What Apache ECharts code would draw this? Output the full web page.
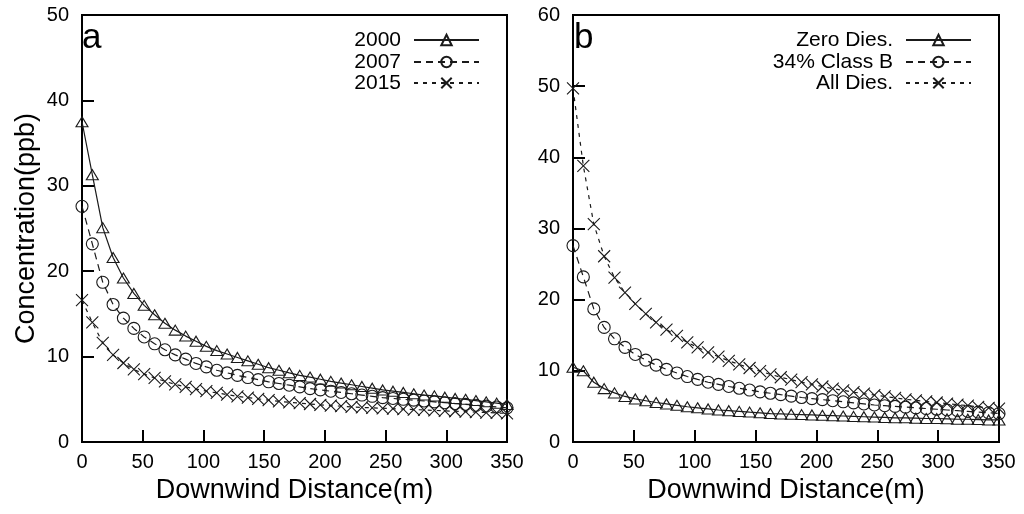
<!DOCTYPE html>
<html>
<head>
<meta charset="utf-8">
<script src="https://cdn.jsdelivr.net/npm/echarts@6/dist/echarts.min.js"></script>
<style>
html,body{margin:0;padding:0;background:#fff;}
#c{width:1024px;height:514px;}
</style>
</head>
<body>
<div id="c"></div>
<script>
// Downwind distance (m) of each sample point
const distance = [0, 8.5, 17.1, 25.6, 34.1, 42.7, 51.2, 59.8, 68.3, 76.8, 85.4, 93.9, 102.4, 111.0, 119.5, 128.0, 136.6, 145.1, 153.7, 162.2, 170.7, 179.3, 187.8, 196.3, 204.9, 213.4, 222.0, 230.5, 239.0, 247.6, 256.1, 264.6, 273.2, 281.7, 290.2, 298.8, 307.3, 315.9, 324.4, 332.9, 341.5, 350.0];

// Panel a
const y2000 = [37.5, 31.3, 25.1, 21.6, 19.2, 17.4, 16.0, 14.9, 13.9, 13.1, 12.4, 11.8, 11.2, 10.7, 10.3, 9.9, 9.5, 9.1, 8.7, 8.4, 8.1, 7.8, 7.6, 7.35, 7.1, 6.9, 6.7, 6.5, 6.3, 6.1, 5.95, 5.8, 5.65, 5.5, 5.4, 5.25, 5.1, 5.0, 4.85, 4.7, 4.55, 4.4];
const y2007 = [27.6, 23.2, 18.7, 16.1, 14.5, 13.3, 12.3, 11.5, 10.8, 10.2, 9.7, 9.2, 8.8, 8.4, 8.1, 7.8, 7.55, 7.3, 7.05, 6.85, 6.65, 6.45, 6.25, 6.1, 5.95, 5.8, 5.65, 5.5, 5.35, 5.2, 5.1, 5.0, 4.9, 4.8, 4.7, 4.6, 4.5, 4.4, 4.3, 4.2, 4.1, 4.0];
const y2015 = [16.6, 14.0, 11.6, 10.2, 9.25, 8.5, 7.95, 7.5, 7.1, 6.75, 6.45, 6.2, 5.95, 5.75, 5.55, 5.35, 5.2, 5.05, 4.9, 4.75, 4.65, 4.55, 4.45, 4.35, 4.25, 4.2, 4.1, 4.05, 4.0, 3.95, 3.9, 3.85, 3.8, 3.75, 3.7, 3.65, 3.6, 3.55, 3.5, 3.45, 3.4, 3.35];

// Panel b
const yZeroDies = [10.5, 10.0, 8.4, 7.5, 6.9, 6.4, 6.05, 5.8, 5.55, 5.35, 5.15, 4.95, 4.8, 4.65, 4.5, 4.4, 4.3, 4.2, 4.1, 4.0, 3.95, 3.9, 3.85, 3.8, 3.75, 3.7, 3.65, 3.6, 3.55, 3.5, 3.45, 3.4, 3.4, 3.35, 3.3, 3.3, 3.25, 3.2, 3.2, 3.15, 3.1, 3.1];
const yClassB = [27.6, 23.2, 18.7, 16.1, 14.5, 13.3, 12.3, 11.5, 10.8, 10.2, 9.7, 9.2, 8.8, 8.4, 8.1, 7.8, 7.55, 7.3, 7.05, 6.85, 6.65, 6.45, 6.25, 6.1, 5.95, 5.8, 5.65, 5.5, 5.35, 5.2, 5.1, 5.0, 4.9, 4.8, 4.7, 4.6, 4.5, 4.4, 4.3, 4.2, 4.1, 4.0];
const yAllDies = [49.7, 38.8, 30.6, 26.1, 23.1, 21.0, 19.4, 18.0, 16.8, 15.8, 14.9, 14.0, 13.3, 12.6, 12.0, 11.4, 10.9, 10.4, 9.95, 9.5, 9.1, 8.75, 8.4, 8.1, 7.8, 7.5, 7.25, 7.0, 6.8, 6.6, 6.4, 6.2, 6.0, 5.85, 5.7, 5.55, 5.4, 5.25, 5.1, 4.95, 4.8, 4.7];

const namesA = ['2000', '2007', '2015'];
const namesB = ['Zero Dies.', '34% Class B', 'All Dies.'];
const panelLabels = ['a', 'b'];
const xTitle = 'Downwind Distance(m)';
const yTitle = 'Concentration(ppb)';

const FONT = '"Liberation Sans", Arial, Helvetica, sans-serif';
const INK = '#1a1a1a';
const X_SYMBOL = 'path://M0,0L10,10M10,0L0,10';

function pairs(ys) { return distance.map((d, i) => [d, ys[i]]); }

const styles = [
  { symbol: 'triangle', symbolSize: [12, 10], line: 'solid' },
  { symbol: 'circle', symbolSize: 12, line: [7, 5] },
  { symbol: X_SYMBOL, symbolSize: 12, line: [4, 5] }
];

function mkSeries(name, ys, k, gi) {
  const s = styles[k];
  return {
    name: name, type: 'line', xAxisIndex: gi, yAxisIndex: gi,
    data: pairs(ys), symbol: s.symbol, symbolSize: s.symbolSize,
    showAllSymbol: true, clip: false, animation: false,
    lineStyle: { color: INK, width: 1.2, type: s.line },
    itemStyle: { color: 'rgba(255,255,255,0)', borderColor: INK, borderWidth: 1.1 },
    emphasis: { disabled: true }
  };
}

function mkLegend(name, right, top) {
  return {
    data: [name], orient: 'vertical', align: 'right', right: right, top: top,
    padding: 0, itemWidth: 65, itemHeight: 13, itemGap: 0,
    selectedMode: false,
    textStyle: { fontFamily: FONT, fontSize: 21, color: '#000', lineHeight: 22, padding: [0, 8, 0, 0] }
  };
}

function xAx(gi) {
  return {
    type: 'value', gridIndex: gi, min: 0, max: 350, interval: 50,
    name: xTitle, nameLocation: 'middle', nameGap: 30,
    nameTextStyle: { fontFamily: FONT, fontSize: 27, color: '#000' },
    axisLine: { show: true, lineStyle: { color: '#000', width: 2 } },
    axisTick: { show: true, inside: true, length: 12, lineStyle: { color: '#000', width: 2 } },
    axisLabel: { fontFamily: FONT, fontSize: 20, color: '#000', margin: 10 },
    splitLine: { show: false }
  };
}
function yAx(gi, max, withName) {
  return {
    type: 'value', gridIndex: gi, min: 0, max: max, interval: 10,
    name: withName ? yTitle : '', nameLocation: 'middle', nameGap: 42, nameRotate: 90,
    nameTextStyle: { fontFamily: FONT, fontSize: 27, color: '#000' },
    axisLine: { show: true, lineStyle: { color: '#000', width: 2 } },
    axisTick: { show: true, inside: true, length: 12, lineStyle: { color: '#000', width: 2 } },
    axisLabel: { fontFamily: FONT, fontSize: 20, color: '#000', margin: 13 },
    splitLine: { show: false }
  };
}

const chart = echarts.init(document.getElementById('c'), null, { renderer: 'canvas' });
chart.setOption({
  backgroundColor: '#fff',
  animation: false,
  grid: [
    { left: 82, top: 15, width: 425, height: 427, show: true, borderColor: '#000', borderWidth: 2, backgroundColor: 'rgba(0,0,0,0)' },
    { left: 573, top: 15, width: 426, height: 427, show: true, borderColor: '#000', borderWidth: 2, backgroundColor: 'rgba(0,0,0,0)' }
  ],
  xAxis: [xAx(0), xAx(1)],
  yAxis: [yAx(0, 50, true), yAx(1, 60, false)],
  legend: [
    mkLegend(namesA[0], 544, 29), mkLegend(namesA[1], 544, 51), mkLegend(namesA[2], 544, 72),
    mkLegend(namesB[0], 52, 29), mkLegend(namesB[1], 52, 51), mkLegend(namesB[2], 52, 72)
  ],
  graphic: [
    { type: 'text', left: 82, top: 21, style: { text: panelLabels[0], font: '35px ' + FONT, fill: '#000' } },
    { type: 'text', left: 574, top: 21, style: { text: panelLabels[1], font: '35px ' + FONT, fill: '#000' } }
  ],
  series: [
    mkSeries(namesA[0], y2000, 0, 0),
    mkSeries(namesA[1], y2007, 1, 0),
    mkSeries(namesA[2], y2015, 2, 0),
    mkSeries(namesB[0], yZeroDies, 0, 1),
    mkSeries(namesB[1], yClassB, 1, 1),
    mkSeries(namesB[2], yAllDies, 2, 1)
  ]
});
</script>
</body>
</html>
